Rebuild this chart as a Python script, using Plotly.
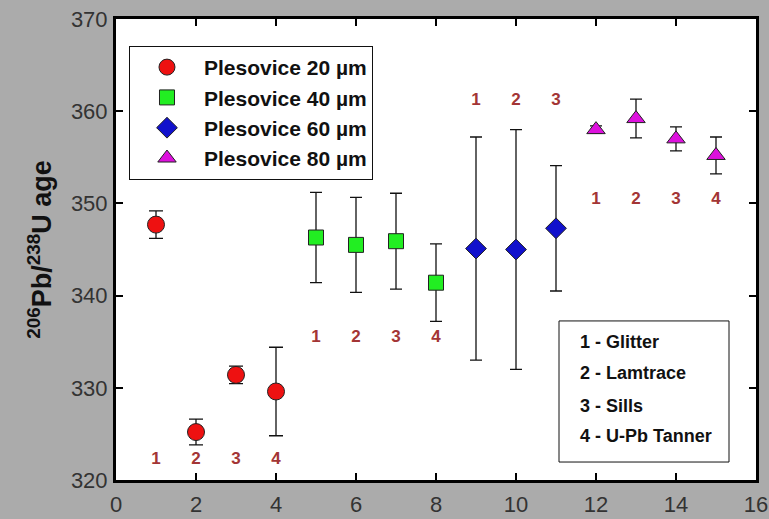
import plotly.graph_objects as go

# ---- data ----
x20 = [1, 2, 3, 4]
y20 = [347.7, 325.2, 331.4, 329.6]
e20 = [1.5, 1.4, 0.95, 4.8]

x40 = [5, 6, 7, 8]
y40 = [346.3, 345.5, 345.9, 341.4]
e40 = [4.9, 5.15, 5.2, 4.2]

x60 = [9, 10, 11]
y60 = [345.1, 345.0, 347.3]
e60 = [12.1, 13.0, 6.8]

x80 = [12, 13, 14, 15]
y80 = [358.0, 359.2, 357.0, 355.2]
e80 = [0.4, 2.1, 1.3, 2.0]

series_names = ["Plesovice 20 µm", "Plesovice 40 µm", "Plesovice 60 µm", "Plesovice 80 µm"]

# method number labels above/below each group
lab_x = [1, 2, 3, 4, 5, 6, 7, 8, 9, 10, 11, 12, 13, 14, 15]
lab_y = [322.2, 322.2, 322.2, 322.2, 335.4, 335.4, 335.4, 335.4,
         361.1, 361.1, 361.1, 350.4, 350.4, 350.4, 350.4]
lab_t = ["1", "2", "3", "4", "1", "2", "3", "4", "1", "2", "3", "1", "2", "3", "4"]

method_lines = ["1 - Glitter", "2 - Lamtrace", "3 - Sills", "4 - U-Pb Tanner"]

x_ticks = [0, 2, 4, 6, 8, 10, 12, 14, 16]
y_ticks = [320, 330, 340, 350, 360, 370]

FONT = "Liberation Sans, Arial, sans-serif"

fig = go.Figure()

def add_series(x, y, e, name, symbol, size, color, capw):
    fig.add_trace(go.Scatter(
        x=x, y=y, mode="markers", name=name,
        marker=dict(symbol=symbol, size=size, color=color,
                    line=dict(color="#222222", width=1)),
        error_y=dict(type="data", array=e, visible=True, color="#111111",
                     thickness=1.3, width=capw),
    ))

add_series(x20, y20, e20, series_names[0], "circle", 17, "#EE1111", 7)
add_series(x40, y40, e40, series_names[1], "square", 15, "#22EE22", 6)
add_series(x60, y60, e60, series_names[2], "diamond", 16, "#1111CC", 6)
add_series(x80, y80, e80, series_names[3], "triangle-up", 16, "#DD11DD", 6)

fig.add_trace(go.Scatter(
    x=lab_x, y=lab_y, mode="text", text=lab_t, showlegend=False,
    textfont=dict(family=FONT, size=17, color="#A33535", weight="bold"),
    hoverinfo="skip",
))

# second "legend" box for methods
fig.add_shape(type="rect", xref="x", yref="y", x0=11.075, x1=15.325, y0=321.95, y1=337.25,
              line=dict(color="#111111", width=1), fillcolor="white", layer="above")
line_y = [335.0, 331.57, 328.06, 324.77]
for t, yy in zip(method_lines, line_y):
    fig.add_annotation(x=11.55, y=yy, xref="x", yref="y", text=t, showarrow=False,
                       xanchor="left", yanchor="middle",
                       font=dict(family=FONT, size=18, color="#111111", weight="bold"))

fig.update_layout(
    width=769, height=519,
    margin=dict(l=116, r=13, t=19, b=39, autoexpand=False),
    paper_bgcolor="#ABABAB", plot_bgcolor="white",
    font=dict(family=FONT, color="#333333"),
    showlegend=True,
    legend=dict(
        x=0.0203, y=0.9415, xanchor="left", yanchor="top",
        bgcolor="white", bordercolor="#111111", borderwidth=1,
        font=dict(family=FONT, size=21, color="#111111", weight="bold"),
        itemwidth=64, tracegroupgap=0, traceorder="grouped",
    ),
)
for i, tr in enumerate(fig.data[:4]):
    tr.legendgroup = f"g{i}"

fig.update_xaxes(
    range=[0, 16], tickvals=x_ticks, ticktext=[str(v) for v in x_ticks],
    showgrid=False, zeroline=False, showline=True, linecolor="black", linewidth=3,
    mirror="ticks", ticks="inside", ticklen=7, tickwidth=2, tickcolor="black",
    tickfont=dict(family=FONT, size=22, color="#333333"), ticklabelstandoff=3,
    automargin=False,
)
fig.update_yaxes(
    range=[320, 370], tickvals=y_ticks, ticktext=[str(v) for v in y_ticks],
    showgrid=False, zeroline=False, showline=True, linecolor="black", linewidth=3,
    mirror="ticks", ticks="inside", ticklen=7, tickwidth=2, tickcolor="black",
    tickfont=dict(family=FONT, size=22, color="#333333"), ticklabelstandoff=1,
    automargin=False,
    title=dict(text="<sup>206</sup>Pb/<sup>238</sup>U age", standoff=12,
               font=dict(family=FONT, size=27, color="#111111", weight="bold")),
)

fig.write_html("out.html", config={"displayModeBar": False},
               post_script="document.body.style.margin='0';")
